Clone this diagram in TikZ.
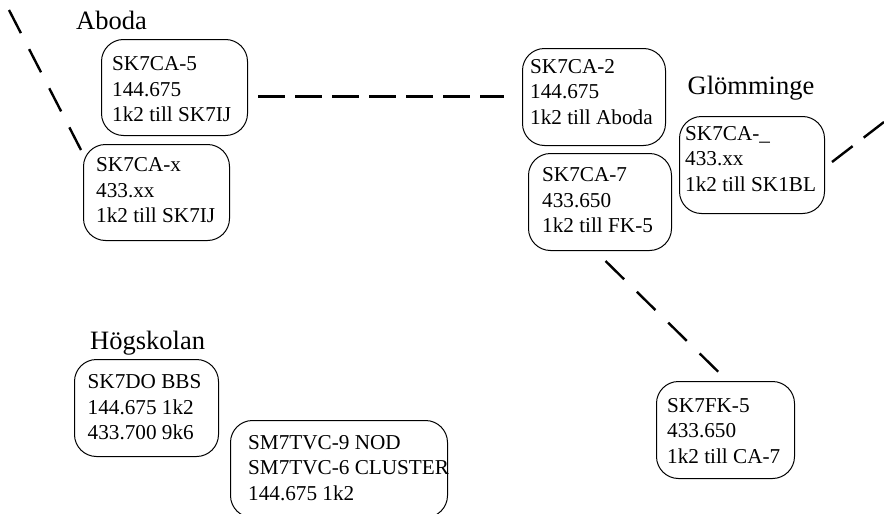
\documentclass[tikz,border=0pt]{standalone}
\usepackage{fontspec}
\setmainfont{Liberation Serif}
\usetikzlibrary{calc}
\tikzset{
  x=1pt,y=-1pt,
  boxnode/.style={draw=black,line width=1pt,rounded corners=22pt,anchor=north west,inner sep=0pt},
  boxtext/.style={anchor=north west,inner sep=0pt,align=left,font=\fontsize{21.2}{25.6}\selectfont},
  place/.style={anchor=base west,inner sep=0pt,font=\fontsize{26.5}{30}\selectfont},
  link/.style={line width=2.4pt,dash pattern=on 26pt off 18pt},
}
\begin{document}
\begin{tikzpicture}
\useasboundingbox (0,0) rectangle (884,514);
\begin{scope}
\clip (0,0) rectangle (884,514);
\node[boxnode,minimum width=146pt,minimum height=96pt] (ca5) at (101,39) {};
\node[boxnode,minimum width=146pt,minimum height=96pt] (cax) at (83,144) {};
\node[boxnode,minimum width=143pt,minimum height=97pt] (ca2) at (522,48) {};
\node[boxnode,minimum width=143pt,minimum height=97pt] (ca7) at (528,153) {};
\node[boxnode,minimum width=145pt,minimum height=97pt] (ca0) at (679,116) {};
\node[boxnode,minimum width=138pt,minimum height=97pt] (fk5) at (656,381) {};
\node[boxnode,minimum width=144pt,minimum height=97pt] (do) at (74,359) {};
\node[boxnode,minimum width=217pt,minimum height=97pt] (tvc) at (230,420) {};
\end{scope}
\node[boxtext] (t5) at ($(ca5.north west)+(11,17.5)$) {SK7CA-5\\144.675\\1k2 till SK7IJ};
\node[boxtext] (tx) at ($(cax.north west)+(13,13.5)$) {SK7CA-x\\433.xx\\1k2 till SK7IJ};
\node[boxtext] (t2) at ($(ca2.north west)+(8,11)$) {SK7CA-2\\144.675\\1k2 till Aboda};
\node[boxtext] (t7) at ($(ca7.north west)+(14,14.5)$) {SK7CA-7\\433.650\\1k2 till FK-5};
\node[boxtext] (t0) at ($(ca0.north west)+(6,10)$) {SK7CA-\_\\433.xx\\1k2 till SK1BL};
\node[boxtext] (tf) at ($(fk5.north west)+(11,17)$) {SK7FK-5\\433.650\\1k2 till CA-7};
\node[boxtext] (td) at ($(do.north west)+(13.5,15.5)$) {SK7DO BBS\\144.675 1k2\\433.700 9k6};
\node[boxtext] (tt) at ($(tvc.north west)+(18,15)$) {SM7TVC-9 NOD\\SM7TVC-6 CLUSTER\\144.675 1k2};
\node[place] (aboda) at (76,29) {Aboda};
\node[place] (glom) at (687.5,94) {Glömminge};
\node[place] (hog) at (90,349.5) {Högskolan};
\coordinate (nw) at (9,10);
\coordinate (ne) at (884,122);
\draw[link] (nw) -- ($(cax.north west)+(-2,6)$);
\draw[link,line width=3pt,dash pattern=on 27pt off 10pt] ($(ca5.east)+(10,9)$) -- ($(ca2.west)+(-18,-0.5)$);
\draw[link,dash pattern=on 26pt off 14pt] ($(ca0.east)+(7,-3)$) -- (ne);
\draw[link] ($(ca7.south)+(5.5,10)$) -- ($(fk5.north)+(-7,-9)$);
\end{tikzpicture}
\end{document}
